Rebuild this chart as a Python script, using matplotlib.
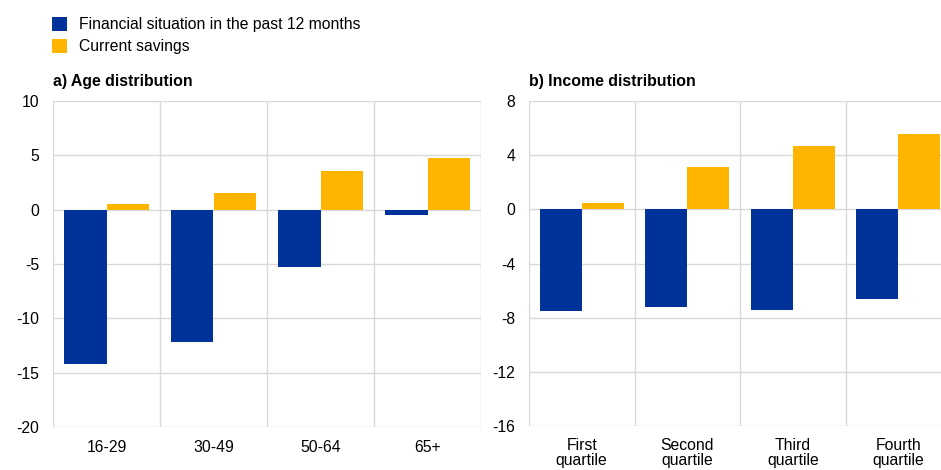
import numpy as np
import matplotlib.pyplot as plt

plt.rcParams["font.family"] = ["Liberation Sans", "DejaVu Sans"]
plt.rcParams["axes.unicode_minus"] = False

# Age groups (panel a)
age_groups = ["16-29", "30-49", "50-64", "65+"]
age_financial = [-14.2, -12.2, -5.3, -0.45]
age_savings = [0.5, 1.5, 3.6, 4.8]

# Income quartiles (panel b)
income_groups = ["First\nquartile", "Second\nquartile", "Third\nquartile", "Fourth\nquartile"]
income_financial = [-7.5, -7.2, -7.4, -6.6]
income_savings = [0.5, 3.1, 4.65, 5.55]

series_names = ["Financial situation in the past 12 months", "Current savings"]
BLUE = "#003299"
YELLOW = "#FFB400"
GRID = "#d9d9d9"
FS = 11.3


def draw_panel(ax, labels, fin, sav, yticks, title):
    x = np.arange(len(labels))
    w = 0.4
    b1 = ax.bar(x - w / 2, fin, w, color=BLUE, zorder=3)
    b2 = ax.bar(x + w / 2, sav, w, color=YELLOW, zorder=3)
    ax.set_xlim(-0.5, len(labels) - 0.5)
    ax.set_ylim(yticks[0], yticks[-1])
    ax.set_yticks(yticks)
    ax.set_xticks(x)
    ax.set_xticklabels(labels, fontsize=FS, linespacing=1.0)
    ax.set_xticks(np.arange(len(labels) + 1) - 0.5, minor=True)
    ax.tick_params(axis="both", which="both", length=0, labelsize=FS)
    ax.tick_params(axis="y", pad=10)
    ax.tick_params(axis="x", pad=9)
    ax.grid(axis="y", which="major", color=GRID, linewidth=1.0, zorder=0)
    ax.grid(axis="x", which="minor", color=GRID, linewidth=1.0, zorder=0)
    ax.set_axisbelow(True)
    for s in ax.spines.values():
        s.set_visible(False)
    ax.set_title(title, loc="left", fontsize=11.4, fontweight="bold", pad=11)
    return b1, b2


fig = plt.figure(figsize=(9.41, 4.70), dpi=100)
ax1 = fig.add_axes([53 / 941, 1 - 427 / 470, 428 / 941, 326 / 470])
ax2 = fig.add_axes([529 / 941, 1 - 426 / 470, 422 / 941, 325 / 470])

b1, b2 = draw_panel(ax1, age_groups, age_financial, age_savings,
                    [-20, -15, -10, -5, 0, 5, 10], "a) Age distribution")
draw_panel(ax2, income_groups, income_financial, income_savings,
           [-16, -12, -8, -4, 0, 4, 8], "b) Income distribution")

fig.legend([b1, b2], series_names, loc="upper left",
           bbox_to_anchor=(46 / 941, 1 - 11 / 470), frameon=False,
           fontsize=FS, handlelength=0.95, handleheight=0.95,
           handletextpad=0.75, labelspacing=0.42, borderaxespad=0)

fig.savefig("out.png", dpi=100)
